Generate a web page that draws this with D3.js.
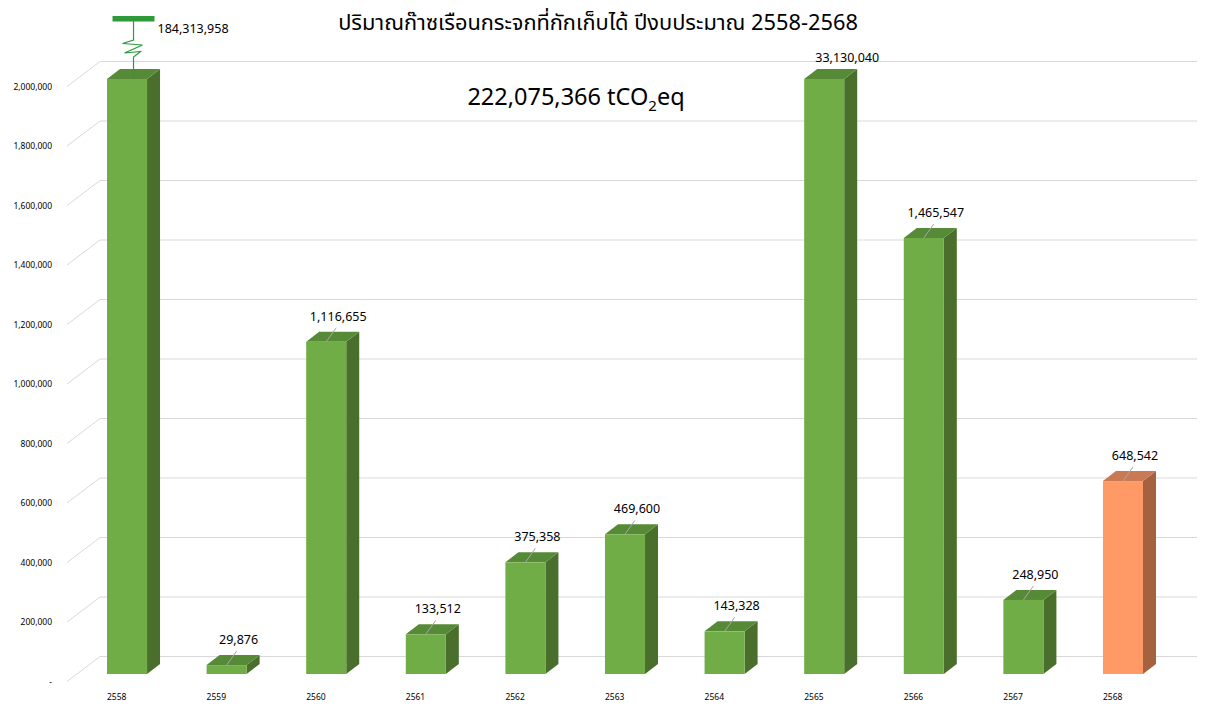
<!DOCTYPE html>
<html>
<head>
<meta charset="utf-8">
<title>Greenhouse gas captured 2558-2568</title>
<script src="https://cdnjs.cloudflare.com/ajax/libs/d3/7.8.5/d3.min.js"></script>
<style>
  body { margin: 0; background: #fff; }
  svg { display: block; font-family: "Noto Sans", "Noto Sans Thai", "Leelawadee UI", Tahoma, sans-serif; }
</style>
</head>
<body>
<svg id="chart" width="1211" height="707"></svg>
<script>
// data
const years = ["2558", "2559", "2560", "2561", "2562", "2563", "2564", "2565", "2566", "2567", "2568"];
const values = [184313958, 29876, 1116655, 133512, 375358, 469600, 143328, 33130040, 1465547, 248950, 648542];
const yTicks = [0, 200000, 400000, 600000, 800000, 1000000, 1200000, 1400000, 1600000, 1800000, 2000000];
const titleText = "ปริมาณก๊าซเรือนกระจกที่กักเก็บได้ ปีงบประมาณ 2558-2568";
const totalText = "222,075,366";
const brokenYear = "2558"; // drawn with axis-break symbol
const yMax = 2000000;

const svg = d3.select("#chart");

// front plane of the bars
const x = d3.scaleBand().domain(years).range([107, 1143]).paddingInner(0.598).paddingOuter(0);
const y = d3.scaleLinear().domain([0, yMax]).range([674, 79]);

// 3d offsets
const depth = { dx: 13, dy: -10 };
const wallBack = -17.5;   // back wall relative to bar front
const labelPlane = 7.5;   // axis labels relative to bar front
const wallLeft = 100, axisLeft = 67, wallRight = 1197;

// gridlines on back wall + floor diagonals
const grid = svg.append("g");
yTicks.forEach(t => {
  const yb = y(t) + wallBack, yl = y(t) + labelPlane;
  grid.append("line").attr("x1", axisLeft).attr("y1", yl).attr("x2", wallLeft).attr("y2", yb)
    .attr("stroke", "#d9d9d9").attr("stroke-width", 1);
  grid.append("line").attr("x1", wallLeft).attr("y1", yb).attr("x2", wallRight).attr("y2", yb)
    .attr("stroke", "#d9d9d9").attr("stroke-width", 1);
});

// y axis labels
const fmt = d3.format(",");
svg.append("g").selectAll("text").data(yTicks).join("text")
  .attr("x", 52).attr("y", d => y(d) + labelPlane + 3)
  .attr("text-anchor", "end").attr("font-size", 8.5).attr("fill", "#000")
  .text(d => d === 0 ? "-" : fmt(d));

// x labels
svg.append("g").selectAll("text").data(years).join("text")
  .attr("x", d => x(d)).attr("y", 700)
  .attr("font-size", 8.5).attr("fill", "#000")
  .text(d => d);

const palette = {
  green: { front: "#70ad47", top: "#578a37", side: "#4a6f2d" },
  orange: { front: "#ff9a66", top: "#c97a52", side: "#a5623e" }
};

const rows = years.map((yr, i) => ({ yr, v: values[i], shown: Math.min(values[i], yMax), clipped: values[i] > yMax }));

const bars = svg.append("g").selectAll("g").data(rows).join("g");
bars.each(function (d) {
  const g = d3.select(this);
  const c = d.yr === "2568" ? palette.orange : palette.green;
  const x0 = x(d.yr), w = x.bandwidth(), x1 = x0 + w;
  const yt = y(d.shown), yb = y(0);
  // side
  g.append("path")
    .attr("d", `M${x1},${yt} L${x1 + depth.dx},${yt + depth.dy} L${x1 + depth.dx},${yb + depth.dy} L${x1},${yb} Z`)
    .attr("fill", c.side);
  // top
  g.append("path")
    .attr("d", `M${x0},${yt} L${x0 + depth.dx},${yt + depth.dy} L${x1 + depth.dx},${yt + depth.dy} L${x1},${yt} Z`)
    .attr("fill", c.top);
  // front
  g.append("rect").attr("x", x0).attr("y", yt).attr("width", w).attr("height", yb - yt)
    .attr("fill", c.front);
});

// value labels
const labels = svg.append("g");
rows.forEach(d => {
  const cx = x(d.yr) + x.bandwidth() / 2;
  const yt = y(d.shown);
  if (d.yr === brokenYear) {
    const bx = cx + 6.5;
    const green = "#2e9a3a";
    labels.append("rect").attr("x", bx - 21).attr("y", 16).attr("width", 42).attr("height", 5.5).attr("fill", green);
    const zig = [[bx, 21], [bx, 40], [bx - 11, 43.5], [bx + 9, 45], [bx - 9, 53], [bx + 7, 51.5], [bx, 57], [bx, yt + depth.dy / 2 + 5]];
    labels.append("path").attr("d", d3.line()(zig)).attr("fill", "none").attr("stroke", green).attr("stroke-width", 1.2);
    labels.append("text").attr("x", bx + 24).attr("y", 33).attr("font-size", 12.5).attr("fill", "#000").text(fmt(d.v));
  } else if (d.clipped) {
    labels.append("text").attr("x", cx + 23).attr("y", yt - 17).attr("text-anchor", "middle")
      .attr("font-size", 12.5).attr("fill", "#000").text(fmt(d.v));
  } else {
    labels.append("line").attr("x1", cx).attr("y1", yt).attr("x2", cx + 10).attr("y2", yt - 14)
      .attr("stroke", "#a6a6a6").attr("stroke-width", 1);
    labels.append("text").attr("x", cx + 12).attr("y", yt - 21).attr("text-anchor", "middle")
      .attr("font-size", 12.5).attr("fill", "#000").text(fmt(d.v));
  }
});

// title
svg.append("text").attr("x", 598).attr("y", 30).attr("text-anchor", "middle")
  .attr("font-size", 21.8).attr("fill", "#000").text(titleText);

// total
const tot = svg.append("text").attr("x", 576).attr("y", 105).attr("text-anchor", "middle")
  .attr("font-size", 23.5).attr("fill", "#000");
tot.append("tspan").text(totalText + " tCO");
tot.append("tspan").attr("font-size", 15).attr("dy", 6).text("2");
tot.append("tspan").attr("dy", -6).text("eq");
</script>
</body>
</html>
